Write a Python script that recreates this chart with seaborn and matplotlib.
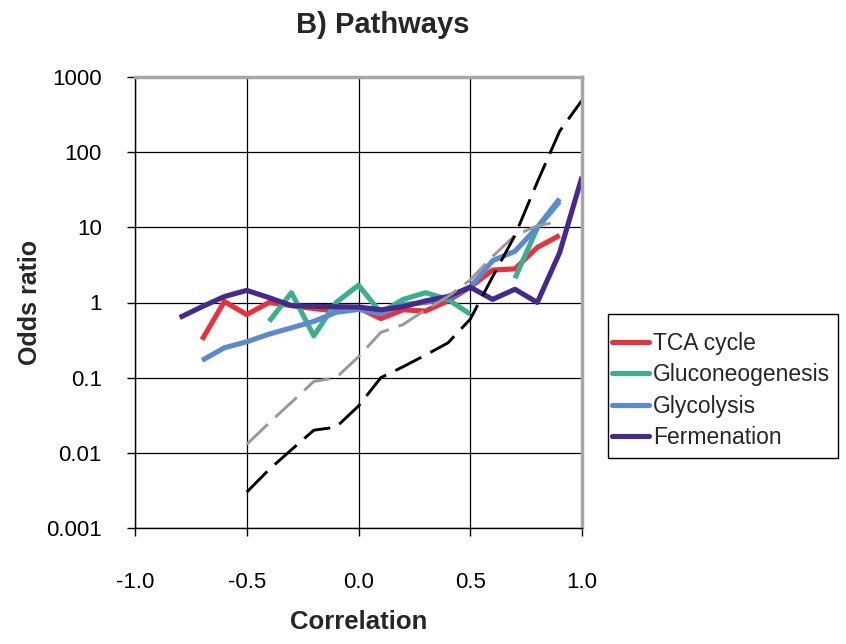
import numpy as np
import pandas as pd
import matplotlib
matplotlib.use('Agg')
import matplotlib.pyplot as plt
from matplotlib.patches import Rectangle
import seaborn as sns

# Correlation bins
corr = [-0.8, -0.7, -0.6, -0.5, -0.4, -0.3, -0.2, -0.1, 0.0, 0.1,
        0.2, 0.3, 0.4, 0.5, 0.6, 0.7, 0.8, 0.9, 1.0]
nan = np.nan

# Odds ratios
tca = [nan, 0.32, 1.03, 0.69, 1.0, 0.91, 0.83, 0.77, 0.85, 0.61,
       0.8, 0.77, 1.05, 1.6, 2.7, 2.8, 5.4, 7.8, nan]
gluco = [nan, nan, nan, nan, 0.56, 1.35, 0.36, 1.0, 1.7, 0.73,
         1.1, 1.35, 1.1, 0.7, nan, 2.1, 9.8, 22, nan]
glyco = [nan, 0.17, 0.25, 0.30, 0.38, 0.46, 0.56, 0.74, 0.81, 0.71,
         0.94, 1.0, 1.15, 1.6, 3.6, 4.8, 10, 24, nan]
ferm = [0.63, 0.88, 1.2, 1.45, 1.16, 0.91, 0.89, 0.88, 0.87, 0.8,
        0.88, 1.05, 1.2, 1.6, 1.1, 1.5, 1.0, 4.6, 47]
ref_gray = [nan, nan, nan, 0.013, 0.025, 0.047, 0.089, 0.1, 0.19, 0.4,
            0.51, 0.8, 1.2, 2.0, 4.1, 7.8, 10.5, 12, nan]
ref_black = [nan, nan, nan, 0.003, 0.006, 0.011, 0.02, 0.022, 0.042, 0.1,
             0.14, 0.2, 0.29, 0.6, 2.2, 7.8, 40, 190, 490]

series = [
    ('TCA cycle', tca, '#E8313B'),
    ('Gluconeogenesis', gluco, '#3BAF8E'),
    ('Glycolysis', glyco, '#5B8AD0'),
    ('Fermenation', ferm, '#452A8C'),
]

sns.set_theme(style='white')
plt.rcParams['font.family'] = ['Liberation Sans', 'DejaVu Sans']

fig = plt.figure(figsize=(8.46, 6.44), dpi=100)
ax = fig.add_axes([135 / 846, 1 - 528 / 644, 447 / 846, 451 / 644])
ax.set_yscale('log')


def draw(values, **kw):
    # split at missing values so gaps stay gaps
    df = pd.DataFrame({'x': corr, 'y': values})
    seg = df['y'].isna().cumsum()
    for _, part in df.dropna().groupby(seg[df['y'].notna()]):
        sns.lineplot(data=part, x='x', y='y', ax=ax, **kw)


for name, vals, col in series:
    draw(vals, color=col, linewidth=3.7, solid_capstyle='butt')

dash = (0, (10, 3.5))
draw(ref_gray, color='#999999', linewidth=2.1, dashes=False, linestyle=dash)
draw(ref_black, color='black', linewidth=2.1, dashes=False, linestyle=dash)

ax.set_xlim(-1.0, 1.0)
ax.set_ylim(0.001, 1000)
ax.set_xticks([-1.0, -0.5, 0.0, 0.5, 1.0])
ax.set_xticklabels(['-1.0', '-0.5', '0.0', '0.5', '1.0'])
yt = [0.001, 0.01, 0.1, 1, 10, 100, 1000]
ax.set_yticks(yt)
ax.set_yticklabels(['0.001', '0.01', '0.1', '1', '10', '100', '1000'])
ax.minorticks_off()

ax.grid(True, color='black', linewidth=0.9)
ax.tick_params(axis='both', labelsize=16, colors='black', length=6, width=1,
               direction='out', left=True, bottom=True)
ax.tick_params(axis='y', pad=18)
ax.tick_params(axis='x', pad=26)

for side in ['top', 'right']:
    ax.spines[side].set_color('#a6a6a6')
    ax.spines[side].set_linewidth(2.5)
for side in ['left', 'bottom']:
    ax.spines[side].set_color('black')
    ax.spines[side].set_linewidth(1.0)

ax.set_xlabel('Correlation', fontsize=18.5, fontweight='bold', labelpad=12)
ax.set_ylabel('Odds ratio', fontsize=18, fontweight='bold', labelpad=3)
fig.text(383 / 846, 1 - 25 / 644, 'B) Pathways', fontsize=21, fontweight='bold',
         ha='center', va='center')

# legend box drawn separately so its size matches the reference
fig.patches.append(Rectangle((608 / 846, 1 - 458 / 644), 230 / 846, 144 / 644,
                             transform=fig.transFigure, fill=False,
                             edgecolor='black', linewidth=1.0))
handles = [plt.Line2D([], [], color=c, linewidth=3.7) for _, _, c in series]
labels = [n for n, _, _ in series]
fig.legend(handles, labels, loc='upper left',
           bbox_to_anchor=(612 / 846, 1 - 332 / 644),
           fontsize=16.5, frameon=False, handlelength=1.6, handletextpad=0.2,
           labelspacing=0.37, borderpad=0, borderaxespad=0)

fig.savefig('out.png', dpi=100)
